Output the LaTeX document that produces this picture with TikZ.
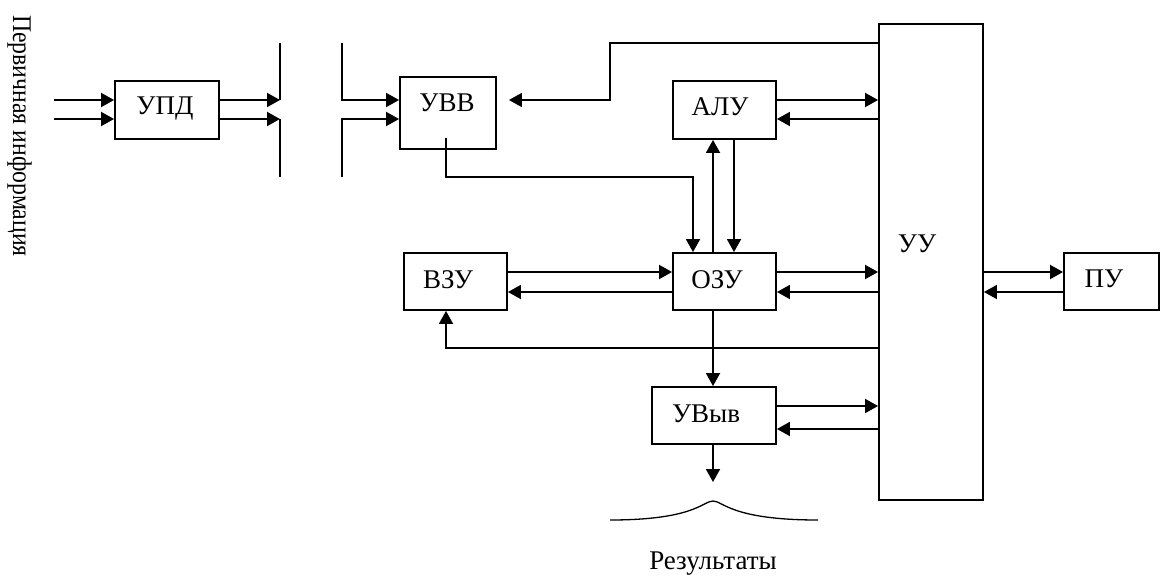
\documentclass[tikz,border=0pt]{standalone}
\usepackage{fontspec}
\setmainfont{Liberation Serif}
\usetikzlibrary{arrows.meta}
\begin{document}
\begin{tikzpicture}[x=1pt,y=-1pt,
  line width=1.9pt,
  box/.style={draw, rectangle, inner sep=0pt, line width=1.9pt},
  lbl/.style={inner sep=0pt, font=\fontsize{27}{32}\selectfont},
  arr/.style={-{Triangle[length=13pt,width=14pt]}},
  every node/.style={font=\fontsize{27}{32}\selectfont}]
\useasboundingbox (0,0) rectangle (1161,578);
% boxes
\node[box, minimum width=104pt, minimum height=58pt] (upd) at (167,110) {};
\node[box, minimum width=96pt, minimum height=72pt] (uvv) at (448,113) {};
\node[box, minimum width=103pt, minimum height=58pt] (alu) at (724.5,110) {};
\node[box, minimum width=103pt, minimum height=57pt] (ozu) at (724.5,281.5) {};
\node[box, minimum width=103pt, minimum height=57pt] (vzu) at (455.5,281.5) {};
\node[box, minimum width=124pt, minimum height=57pt] (uvyv) at (714,415.5) {};
\node[box, minimum width=104pt, minimum height=476pt] (uu) at (931,262) {};
\node[box, minimum width=95pt, minimum height=57pt] (pu) at (1111.5,281.5) {};
% labels
\node[lbl] (tupd) at (165,109) {УПД};
\node[lbl] (tuvv) at (447,103) {УВВ};
\node[lbl] (talu) at (720,107) {АЛУ};
\node[lbl] (tozu) at (717,280) {ОЗУ};
\node[lbl] (tvzu) at (448,280) {ВЗУ};
\node[lbl] (tuvyv) at (706,414) {УВыв};
\node[lbl] (tuu) at (917,244) {УУ};
\node[lbl] (tpu) at (1104,279) {ПУ};
\node[lbl, rotate=-90, anchor=base] (tin) at (13,136) {\scalebox{0.88}[1]{Первичная информация}};
\node[lbl] (tres) at (713,564) {Результаты};
% coordinates
\coordinate (in1) at (54,100);
\coordinate (in2) at (54,119);
\coordinate (a1) at (280,43);
\coordinate (a2) at (280,100);
\coordinate (a3) at (280,119);
\coordinate (a4) at (280,177);
\coordinate (b1) at (342,43);
\coordinate (b2) at (342,100);
\coordinate (b3) at (342,119);
\coordinate (b4) at (342,177);
\coordinate (k1) at (610,43);
\coordinate (k2) at (610,100);
\coordinate (v1) at (446,138);
\coordinate (v2) at (446,177);
\coordinate (v3) at (693,177);
\coordinate (w1) at (446,348);
\coordinate (outend) at (713,482);
\coordinate (c1) at (610,520);
\coordinate (c2) at (713,501);
\coordinate (c3) at (818,520);
% input part
\draw[arr] (in1) -- (upd.west |- in1);
\draw[arr] (in2) -- (upd.west |- in2);
\draw[arr] (upd.east |- a2) -- (a2);
\draw[arr] (upd.east |- a3) -- (a3);
\draw (a1) -- (a2);
\draw (a3) -- (a4);
\draw[arr] (b1) -- (b2) -- (uvv.west |- b2);
\draw[arr] (b4) -- (b3) -- (uvv.west |- b3);
% УУ -> УВВ
\draw[arr, shorten >=12pt] (uu.west |- k1) -- (k1) -- (k2) -- (uvv.east |- k2);
% АЛУ <-> УУ
\draw[arr] (alu.east |- 0,100) -- (uu.west |- 0,100);
\draw[arr] (uu.west |- 0,119) -- (alu.east |- 0,119);
% УВВ -> ОЗУ
\draw[arr] (v1) -- (v2) -- (v3) -- (ozu.north -| v3);
% ОЗУ <-> АЛУ
\draw[arr] (ozu.north -| 713,0) -- (alu.south -| 713,0);
\draw[arr] (alu.south -| 734,0) -- (ozu.north -| 734,0);
% ВЗУ <-> ОЗУ
\draw[arr] (vzu.east |- 0,272) -- (ozu.west |- 0,272);
\draw[arr] (ozu.west |- 0,292) -- (vzu.east |- 0,292);
% ОЗУ <-> УУ
\draw[arr] (ozu.east |- 0,272) -- (uu.west |- 0,272);
\draw[arr] (uu.west |- 0,292) -- (ozu.east |- 0,292);
% УУ -> ВЗУ
\draw[arr] (uu.west |- w1) -- (w1) -- (vzu.south -| w1);
% ОЗУ -> УВыв
\draw[arr] (ozu.south -| 713,0) -- (uvyv.north -| 713,0);
% УВыв <-> УУ
\draw[arr] (uvyv.east |- 0,406) -- (uu.west |- 0,406);
\draw[arr] (uu.west |- 0,429) -- (uvyv.east |- 0,429);
% УУ <-> ПУ
\draw[arr] (uu.east |- 0,272) -- (pu.west |- 0,272);
\draw[arr] (pu.west |- 0,292) -- (uu.east |- 0,292);
% УВыв -> results
\draw[arr] (uvyv.south -| outend) -- (outend);
\draw[line width=1.3pt] (c1) .. controls (695,520) and (703,501) .. (c2) .. controls (723,501) and (731,520) .. (c3);
\end{tikzpicture}
\end{document}
